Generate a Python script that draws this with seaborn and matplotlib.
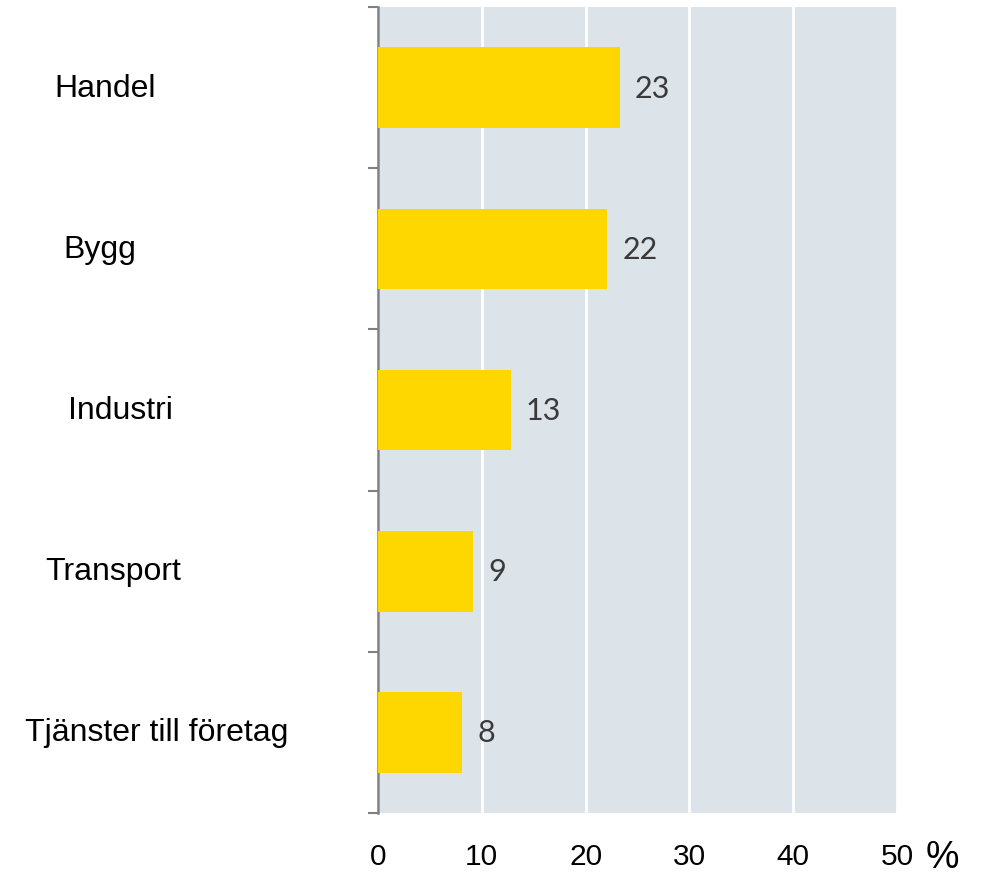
import matplotlib
matplotlib.use("Agg")
import matplotlib.pyplot as plt
import pandas as pd
import seaborn as sns

categories = ['Handel', 'Bygg', 'Industri', 'Transport', 'Tjänster till företag']
values = [23.3, 22.1, 12.8, 9.2, 8.1]
value_labels = ['23', '22', '13', '9', '8']
xticks = [0, 10, 20, 30, 40, 50]

df = pd.DataFrame({'bransch': categories, 'andel': values})

sns.set_style("white")
plt.rcParams['font.family'] = ['Liberation Sans', 'DejaVu Sans']

fig = plt.figure(figsize=(9.9, 8.79), dpi=100)
ax = fig.add_axes([378 / 990, 1 - 814 / 879, (897 - 378) / 990, (814 - 8) / 879])
ax.set_facecolor('#dce3e9')

sns.barplot(data=df, x='andel', y='bransch', color='#ffd700', saturation=1,
            width=0.5, linewidth=0, ax=ax, zorder=3)

ax.set_xlim(0, 50)
ax.set_ylim(len(categories) - 0.5, -0.5)
ax.set_xticks(xticks)
ax.set_xticklabels([str(t) for t in xticks], fontsize=21.5, color='black')
ax.tick_params(axis='x', length=0, pad=21)
ax.grid(axis='x', color='white', linewidth=2, zorder=1)
ax.set_xlabel('')
ax.set_ylabel('')

# category boundaries as ticks on the left spine
ax.set_yticks([i - 0.5 for i in range(len(categories) + 1)])
ax.set_yticklabels([])
ax.tick_params(axis='y', left=True, length=7, width=1.5, color='#808080',
               direction='out')

for s in ['top', 'right', 'bottom']:
    ax.spines[s].set_visible(False)
ax.spines['left'].set_color('#808080')
ax.spines['left'].set_linewidth(1.8)

# category labels
label_centers = [105, 100, 120, 113, 157]
for i, (cat, xc) in enumerate(zip(categories, label_centers)):
    ax.annotate(cat, xy=(0, i), xycoords=('axes fraction', 'data'),
                xytext=(xc - 378, 0), textcoords='offset pixels',
                ha='center', va='center', fontsize=23, color='black')

# value labels
for i, (v, lab) in enumerate(zip(values, value_labels)):
    ax.annotate(lab, xy=(v, i), xytext=(15, 0), textcoords='offset pixels',
                ha='left', va='center', fontsize=22, color='#3a3a3a',
                family=['Lato', 'DejaVu Sans'])

fig.text(942 / 990, 1 - 858 / 879, '%', fontsize=27, ha='center', va='center',
         color='black')

fig.savefig('out.png', dpi=100)
